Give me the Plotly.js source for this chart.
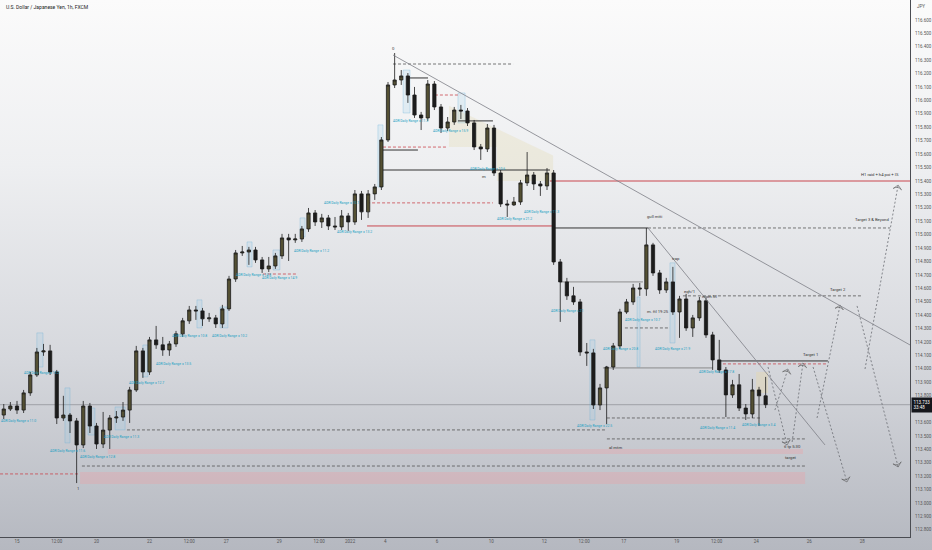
<!DOCTYPE html>
<html>
<head>
<meta charset="utf-8">
<script src="https://cdn.plot.ly/plotly-3.0.1.min.js"></script>
<style>
  html, body { margin: 0; padding: 0; }
  #chart {
    width: 932px; height: 550px;
    background: linear-gradient(to bottom, #fbfbfb 0%, #eeeff1 30%, #d6d8dd 65%, #b5b8c0 100%);
  }
</style>
</head>
<body>
<div id="chart"></div>
<script>
// USD/JPY 6h candles (x = trading days since Dec 15)
const startDay = -0.5;
const stepDay = 0.25;

const opens = [113.656,113.701,113.723,113.693,113.821,113.955,114.126,114.134,113.977,113.634,
  113.656,113.612,113.433,113.723,113.574,113.440,113.544,113.634,113.641,113.693,
  113.843,114.134,113.977,114.216,114.179,114.141,114.186,114.261,114.358,114.439,
  114.432,114.373,114.380,114.335,114.447,114.670,114.864,114.871,114.886,114.812,
  114.745,114.767,114.842,114.976,114.961,114.968,115.043,115.162,115.095,115.125,
  115.065,115.058,115.140,115.095,115.304,115.170,115.304,115.356,115.706,116.116,
  116.153,116.183,116.041,115.892,115.870,116.123,115.952,115.795,115.840,115.929,
  115.922,115.833,115.654,115.639,115.795,115.460,115.229,115.222,115.244,115.386,
  115.445,115.378,115.363,115.460,114.797,114.648,114.544,114.499,114.126,114.119,
  113.731,113.858,114.014,114.171,114.424,114.499,114.603,114.596,114.924,114.715,
  114.588,114.648,114.424,114.521,114.305,114.380,114.507,114.253,114.067,113.992,
  113.806,113.881,113.708,113.664,113.843,113.799];
const highs = [113.738,113.753,113.761,113.843,113.977,114.156,114.186,114.179,113.992,113.799,
  113.671,113.634,113.761,113.746,113.597,113.679,113.656,113.686,113.753,113.866,
  114.171,114.156,114.238,114.320,114.238,114.208,114.283,114.380,114.469,114.469,
  114.454,114.417,114.402,114.477,114.693,114.886,114.916,114.909,114.909,114.834,
  114.834,114.864,115.006,115.006,115.006,115.065,115.199,115.184,115.155,115.147,
  115.132,115.184,115.162,115.333,115.326,115.333,115.378,115.728,116.138,116.354,
  116.227,116.205,116.101,115.915,116.153,116.145,115.974,115.877,115.952,115.967,
  115.944,115.855,115.676,115.825,115.818,115.482,115.259,115.281,115.408,115.616,
  115.467,115.400,115.497,115.482,114.819,114.678,114.611,114.521,114.193,114.149,
  113.888,114.022,114.193,114.447,114.521,114.633,114.640,115.050,114.939,114.737,
  114.678,114.760,114.544,114.559,114.402,114.536,114.529,114.276,114.216,114.014,
  113.918,113.962,113.738,113.925,113.866,113.940];
const lows = [113.626,113.686,113.664,113.671,113.799,113.940,114.097,113.955,113.589,113.612,
  113.522,113.149,113.410,113.522,113.403,113.410,113.403,113.597,113.612,113.597,
  113.828,113.933,113.955,114.149,114.097,114.097,114.164,114.238,114.335,114.365,
  114.320,114.350,114.305,114.305,114.432,114.648,114.842,114.775,114.790,114.715,
  114.722,114.745,114.819,114.804,114.939,114.946,115.021,115.065,115.050,115.035,
  115.035,115.035,115.028,115.073,115.110,115.125,115.259,115.333,115.691,116.093,
  116.116,115.982,115.870,115.780,115.848,115.929,115.758,115.773,115.818,115.862,
  115.810,115.631,115.557,115.616,115.438,115.207,115.132,115.214,115.222,115.363,
  115.333,115.289,115.333,114.775,114.350,114.514,114.477,114.097,114.022,113.701,
  113.693,113.589,113.992,114.149,114.410,114.477,114.544,114.544,114.693,114.559,
  114.566,114.402,114.231,114.283,114.238,114.358,114.231,113.992,113.970,113.641,
  113.784,113.686,113.619,113.634,113.574,113.708];
const closes = [113.701,113.723,113.693,113.821,113.955,114.126,114.134,113.977,113.634,113.656,
  113.612,113.433,113.723,113.574,113.440,113.544,113.634,113.641,113.693,113.843,
  114.134,113.977,114.216,114.179,114.141,114.186,114.261,114.358,114.439,114.432,
  114.373,114.380,114.335,114.447,114.670,114.864,114.871,114.886,114.812,114.745,
  114.767,114.842,114.976,114.961,114.968,115.043,115.162,115.095,115.125,115.065,
  115.058,115.140,115.095,115.304,115.170,115.304,115.356,115.706,116.116,116.153,
  116.183,116.041,115.892,115.870,116.123,115.952,115.795,115.840,115.929,115.922,
  115.833,115.654,115.639,115.795,115.460,115.229,115.222,115.244,115.386,115.445,
  115.378,115.363,115.460,114.797,114.648,114.544,114.499,114.126,114.119,113.731,
  113.858,114.014,114.171,114.424,114.499,114.603,114.596,114.924,114.715,114.588,
  114.648,114.424,114.521,114.305,114.380,114.507,114.253,114.067,113.992,113.806,
  113.881,113.708,113.664,113.843,113.799,113.733];

const lastPrice = 113.733;
const lastLabel = ['113.733', '33:48'];

// price axis labels (113.700 sits under the last-price box, 116.700 under the currency tag)
const yTicks = [112.8, 112.9, 113.0, 113.1, 113.2, 113.3, 113.4, 113.5, 113.6, 113.8, 113.9,
  114.0, 114.1, 114.2, 114.3, 114.4, 114.5, 114.6, 114.7, 114.8, 114.9,
  115.0, 115.1, 115.2, 115.3, 115.4, 115.5, 115.6, 115.7, 115.8, 115.9,
  116.0, 116.1, 116.2, 116.3, 116.4, 116.5, 116.6];

// time axis labels
const tickDays = [0, 1.5, 3, 5, 6.5, 7.9, 9.9, 11.4, 12.57, 13.9, 15.85, 17.9, 19.9, 21.4, 22.9, 24.9, 26.4, 27.9, 29.9, 31.9];
const tickText = ['15', '12:00', '20', '22', '12:00', '27', '29', '12:00', '2022', '4', '6', '10', '12', '12:00', '17', '19', '12:00', '24', '26', '28'];

// horizontal levels: price, from day, to day
const darkSolidP = [115.482, 115.050, 114.059, 115.631, 115.848, 116.168];
const darkSolidA = [13.81, 20.23, 26.53, 13.81, 16.64, 14.72];
const darkSolidB = [20.11, 23.81, 30.60, 15.13, 17.96, 15.51];

const darkDashP = [116.272, 115.050, 114.544, 113.545, 113.634, 113.478, 113.276, 114.305];
const darkDashA = [14.19, 23.81, 25.13, 4.15, 22.26, 22.26, 2.45, 22.94];
const darkDashB = [18.72, 32.94, 31.89, 22.26, 28.04, 29.74, 29.74, 24.64];

const redSolidP = [115.400, 115.065];
const redSolidA = [20.11, 13.21];
const redSolidB = [33.70, 20.23];

const redDashP = [113.217, 114.037, 115.653, 115.237, 116.041, 114.707];
const redDashA = [-0.64, 26.64, 13.81, 13.21, 15.77, 9.28];
const redDashB = [2.30, 30.60, 16.26, 17.96, 16.72, 10.60];

const grayP = [114.648, 114.007];
const grayA = [20.49, 22.11];
const grayB = [23.62, 26.26];

// pink zones: top, bottom, from, to
const zoneTop = [113.403, 113.232];
const zoneBot = [113.366, 113.142];
const zoneA = [3.43, 2.38];
const zoneB = [29.66, 29.74];

// trendlines: day0, price0, day1, price1
const trendX0 = [14.19, 23.81];
const trendY0 = [116.339, 115.050];
const trendX1 = [33.70, 30.49];
const trendY1 = [114.178, 113.433];

// projected paths
const projX0 = [28.34, 28.60, 29.25, 30.04, 30.19, 31.70, 32.00];
const projY0 = [114.014, 113.693, 113.455, 114.014, 113.634, 114.469, 113.999];
const projX1 = [29.06, 29.09, 29.66, 31.32, 31.06, 33.25, 33.25];
const projY1 = [113.433, 113.999, 114.044, 113.157, 114.476, 113.269, 115.370];

// ADR range boxes
const boxX0 = [0.75, 1.81, 2.68, 4.75, 3.70, 6.79, 7.66, 8.68, 9.66, 10.68, 13.62, 14.57, 16.64, 24.64, 21.62, 23.40];
const boxX1 = [0.98, 2.00, 2.94, 4.94, 4.08, 6.98, 7.96, 8.87, 9.92, 10.87, 13.81, 14.83, 16.91, 24.83, 21.81, 23.51];
const boxY0 = [114.268, 113.858, 113.708, 114.178, 113.716, 114.514, 114.461, 114.946, 114.886, 115.125, 115.818, 116.227, 116.056, 114.790, 114.216, 114.536];
const boxY1 = [114.014, 113.448, 113.507, 113.940, 113.545, 114.305, 114.305, 114.760, 114.737, 114.983, 115.355, 115.907, 115.833, 114.193, 113.619, 114.014];

// ADR labels
const adrText = ['11.0', '13.2', '11.6', '12.8', '11.3', '12.7', '13.5', '10.8', '10.2', '14.8', '14.9', '11.2', '10.1', '13.2',
  '11.3', '15.9', '10.6', '11.3', '21.2', '21', '20.8', '21.9', '22.5', '10.7', '17.8', '11.4', '3.4'];
const adrX = [0.04, 0.94, 1.92, 3.02, 3.96, 4.87, 5.92, 6.50, 8.02, 8.94, 9.92, 11.13, 12.23, 12.75,
  14.83, 16.34, 17.77, 19.81, 18.79, 20.75, 22.79, 24.75, 21.81, 23.62, 26.38, 26.42, 27.98];
const adrY = [113.612, 113.969, 113.388, 113.343, 113.492, 113.895, 114.037, 114.245, 114.245, 114.700, 114.677, 114.878, 115.236, 115.020,
  115.847, 115.773, 115.490, 115.169, 115.117, 114.432, 114.149, 114.149, 113.575, 114.365, 113.979, 113.560, 113.585];

// drawing notes
const noteText = ['0', '1', 'm', 'gull mtti', 'trap', 'eqh/1', 'mom lvl', 'm. ftl 19:25', 'al mtm', 'tl tp 5:30', 'target',
  'Target 1', 'Target 2', 'Target 3 & Beyond', 'H1 raid + h4 poi + IS'];
const noteX = [14.19, 2.30, 17.62, 24.04, 24.87, 25.36, 26.15, 24.20, 22.60, 29.28, 29.21, 29.96, 30.98, 32.26, 32.57];
const noteY = [116.384, 113.112, 115.430, 115.139, 114.819, 114.573, 114.536, 114.425, 113.411, 113.425, 113.343,
  114.104, 114.595, 115.110, 115.445];

const FONT = 'Roboto, "Liberation Sans", sans-serif';
const times = closes.map((_, i) => startDay + i * stepDay);

const shapes = [];
function addLevels(P, A, B, color, dash, width) {
  P.forEach((p, i) => shapes.push({
    type: 'line', xref: 'x', yref: 'y', x0: A[i], x1: B[i], y0: p, y1: p,
    line: { color: color, width: width, dash: dash }, layer: 'below'
  }));
}

// zones and boxes first
zoneTop.forEach((t, i) => shapes.push({
  type: 'rect', xref: 'x', yref: 'y', x0: zoneA[i], x1: zoneB[i], y0: zoneBot[i], y1: t,
  fillcolor: 'rgba(236,160,165,0.35)', line: { width: 0 }, layer: 'below'
}));
boxX0.forEach((x, i) => shapes.push({
  type: 'rect', xref: 'x', yref: 'y', x0: x, x1: boxX1[i], y0: boxY1[i], y1: boxY0[i],
  fillcolor: 'rgba(140,200,235,0.18)', line: { color: 'rgba(90,170,215,0.55)', width: 0.5 }, layer: 'below'
}));
// light tan areas
shapes.push({
  type: 'path', xref: 'x', yref: 'y',
  path: 'M 16.3,115.96 L 20.23,115.59 L 20.23,115.40 L 18.11,115.40 L 18.11,115.654 L 16.3,115.654 Z',
  fillcolor: 'rgba(225,215,170,0.28)', line: { width: 0 }, layer: 'below'
});
shapes.push({
  type: 'rect', xref: 'x', yref: 'y', x0: 27.89, x1: 28.34, y0: 113.820, y1: 113.977,
  fillcolor: 'rgba(225,215,185,0.6)', line: { width: 0 }, layer: 'below'
});

addLevels(darkSolidP, darkSolidA, darkSolidB, '#333333', 'solid', 1);
addLevels(darkDashP, darkDashA, darkDashB, '#555555', '3px,2px', 0.8);
addLevels(redSolidP, redSolidA, redSolidB, '#c9474f', 'solid', 1);
addLevels(redDashP, redDashA, redDashB, '#c9474f', '3px,2px', 0.8);
addLevels(grayP, grayA, grayB, '#777777', 'solid', 0.8);

// price line
shapes.push({
  type: 'line', xref: 'paper', yref: 'y', x0: 0, x1: 1, y0: lastPrice, y1: lastPrice,
  line: { color: '#8a8d94', width: 0.7 }, layer: 'below'
});

trendX0.forEach((x, i) => shapes.push({
  type: 'line', xref: 'x', yref: 'y', x0: x, y0: trendY0[i], x1: trendX1[i], y1: trendY1[i],
  line: { color: '#7d7f86', width: 0.8 }
}));

const traces = [{
  type: 'candlestick',
  x: times, open: opens, high: highs, low: lows, close: closes,
  increasing: { line: { color: '#1c1c1c', width: 0.8 }, fillcolor: '#545033' },
  decreasing: { line: { color: '#1c1c1c', width: 0.8 }, fillcolor: '#1c1c1c' },
  whiskerwidth: 0,
  hoverinfo: 'skip',
  showlegend: false
}];

projX0.forEach((x, i) => traces.push({
  type: 'scatter', mode: 'lines+markers',
  x: [x, projX1[i]], y: [projY0[i], projY1[i]],
  line: { color: '#6a6c72', width: 0.8, dash: '2px,2px' },
  marker: { symbol: 'arrow-wide-open', angleref: 'previous', size: [0, 6], color: '#555', line: { color: '#555', width: 0.8 } },
  hoverinfo: 'skip', showlegend: false
}));

const annotations = [];
adrText.forEach((t, i) => annotations.push({
  xref: 'x', yref: 'y', x: adrX[i], y: adrY[i], text: 'ADR Daily Range = ' + t,
  showarrow: false, font: { family: FONT, size: 3.4, color: '#1a9fc4' }
}));
noteText.forEach((t, i) => annotations.push({
  xref: 'x', yref: 'y', x: noteX[i], y: noteY[i], text: t,
  showarrow: false, font: { family: FONT, size: 4.2, color: '#333' }
}));
annotations.push({
  xref: 'paper', yref: 'paper', x: 0.004, y: 0.987, xanchor: 'left', yanchor: 'middle',
  text: 'U.S. Dollar / Japanese Yen, 1h, FXCM', showarrow: false,
  font: { family: FONT, size: 5, color: '#222' }
});
annotations.push({
  xref: 'paper', yref: 'paper', x: 1.0125, y: 0.987, xanchor: 'center', yanchor: 'middle',
  text: 'JPY', showarrow: false, font: { family: FONT, size: 4.5, color: '#555' }
});
annotations.push({
  xref: 'paper', yref: 'y', x: 1.001, y: lastPrice, xanchor: 'left', yanchor: 'middle',
  text: lastLabel.join('<br>'), showarrow: false, align: 'left',
  bgcolor: '#15171c', borderpad: 1.5,
  font: { family: FONT, size: 4.5, color: '#ffffff' }
});

const layout = {
  width: 932, height: 550,
  margin: { l: 0, r: 22, t: 0, b: 13 },
  paper_bgcolor: 'rgba(0,0,0,0)',
  plot_bgcolor: 'rgba(0,0,0,0)',
  showlegend: false,
  font: { family: FONT },
  xaxis: {
    range: [-0.6415, 33.698],
    rangeslider: { visible: false },
    tickvals: tickDays, ticktext: tickText,
    showgrid: false, zeroline: false,
    showline: true, linecolor: '#4a4c52', linewidth: 1,
    ticks: '', tickfont: { size: 4.5, color: '#555' }
  },
  yaxis: {
    range: [112.747, 116.749],
    side: 'right',
    tickvals: yTicks, tickformat: '.3f',
    showgrid: false, zeroline: false,
    showline: true, linecolor: '#4a4c52', linewidth: 1,
    ticks: '', ticklabelstandoff: 3,
    tickfont: { size: 4.5, color: '#555' }
  },
  shapes: shapes,
  annotations: annotations
};

Plotly.newPlot('chart', traces, layout, { staticPlot: true, displayModeBar: false });
</script>
</body>
</html>
